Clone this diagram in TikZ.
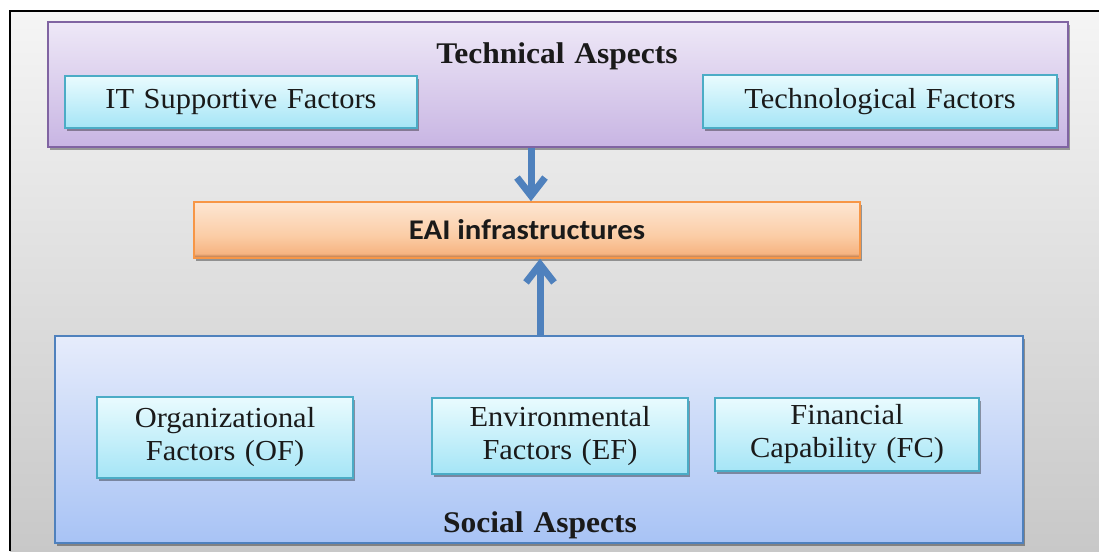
\documentclass[tikz,border=0pt]{standalone}
\usepackage{fontspec}
\setmainfont{Liberation Serif}[FakeStretch=1.05, WordSpace=1.25]
\newfontfamily\eaifont{Carlito}[FakeStretch=1.08]
\usetikzlibrary{arrows.meta,shadows}
\definecolor{bgTop}{HTML}{F5F5F5}
\definecolor{bgBot}{HTML}{C8C8C8}
\definecolor{purBorder}{HTML}{8064A2}
\definecolor{purTop}{HTML}{EEE8F7}
\definecolor{purBot}{HTML}{C8B5E3}
\definecolor{cyBorder}{HTML}{4BACC6}
\definecolor{cyTop}{HTML}{E9FBFE}
\definecolor{cyBot}{HTML}{A5E5F6}
\definecolor{orBorder}{HTML}{F79646}
\definecolor{orTop}{HTML}{FDE6D3}
\definecolor{orMid}{HTML}{FBCDA6}
\definecolor{orMidB}{HTML}{F6B482}
\definecolor{orBot}{HTML}{A86A40}
\definecolor{blBorder}{HTML}{4F81BD}
\definecolor{blTop}{HTML}{E6ECFB}
\definecolor{blBot}{HTML}{A8C3F5}
\definecolor{arrowBlue}{HTML}{4F81BD}
\definecolor{txt}{HTML}{1A1A1A}
\pgfdeclareverticalshading{eaishade}{100bp}{color(0bp)=(orBot); color(25bp)=(orBot); color(29bp)=(orMidB); color(45bp)=(orMid); color(75bp)=(orTop); color(100bp)=(orTop)}
\tikzset{
  shad/.style={drop shadow={shadow xshift=2pt, shadow yshift=-3pt, opacity=0.35, fill=black}},
  groupbox/.style={rectangle, draw, line width=1.6pt, shad},
  factorbox/.style={rectangle, draw=cyBorder, line width=1.4pt, top color=cyTop, bottom color=cyBot, shad, align=center, inner sep=0pt, text=txt, font=\fontsize{29}{33}\selectfont},
  titletext/.style={font=\fontsize{30}{34}\selectfont\bfseries, inner sep=0pt, text=txt},
  bigarrow/.style={draw=arrowBlue, line width=7pt, -{Straight Barb[length=18pt, width=28pt]}}
}
\begin{document}
\begin{tikzpicture}[x=1pt,y=-1pt]
\useasboundingbox (0,0) rectangle (1099,551);
% background
\shade[top color=bgTop, bottom color=bgBot] (10,11) rectangle (1099,551);
\draw[line width=1.5pt, black] (10,551) -- (10,11) -- (1099,11);

% technical aspects group
\node[groupbox, draw=purBorder, top color=purTop, bottom color=purBot, minimum width=1020pt, minimum height=125pt] (tech) at (558,84.5) {};
\node[titletext] (techtitle) at (557,56) {Technical Aspects};
\node[factorbox, minimum width=352pt, minimum height=52pt] (itf) at (241,102) {IT Supportive Factors};
\node[factorbox, minimum width=354pt, minimum height=53pt] (tf) at (880,101.5) {Technological Factors};

% EAI
\node[rectangle, draw=orBorder, line width=1.4pt, shading=eaishade, shad, minimum width=666pt, minimum height=56pt, text=txt, font=\eaifont\fontsize{28.5}{32}\selectfont\bfseries] (eai) at (527,230) {\raisebox{-2pt}{EAI infrastructures}};

% social aspects group
\node[groupbox, draw=blBorder, top color=blTop, bottom color=blBot, minimum width=968pt, minimum height=207pt] (social) at (539,439.5) {};
\node[titletext] (soctitle) at (540,525) {Social Aspects};
\node[factorbox, minimum width=256pt, minimum height=81pt] (of) at (225,437.5) {Organizational\\Factors (OF)};
\node[factorbox, minimum width=256pt, minimum height=76pt] (ef) at (560,436) {Environmental\\Factors (EF)};
\node[factorbox, minimum width=264pt, minimum height=73pt] (fc) at (847,434.5) {Financial\\Capability (FC)};

% arrows
\draw[bigarrow] ([xshift=-27pt]tech.south) -- ([xshift=4pt]eai.north);
\draw[bigarrow] ([xshift=1pt]social.north) -- ([xshift=13pt]eai.south);
\end{tikzpicture}
\end{document}
